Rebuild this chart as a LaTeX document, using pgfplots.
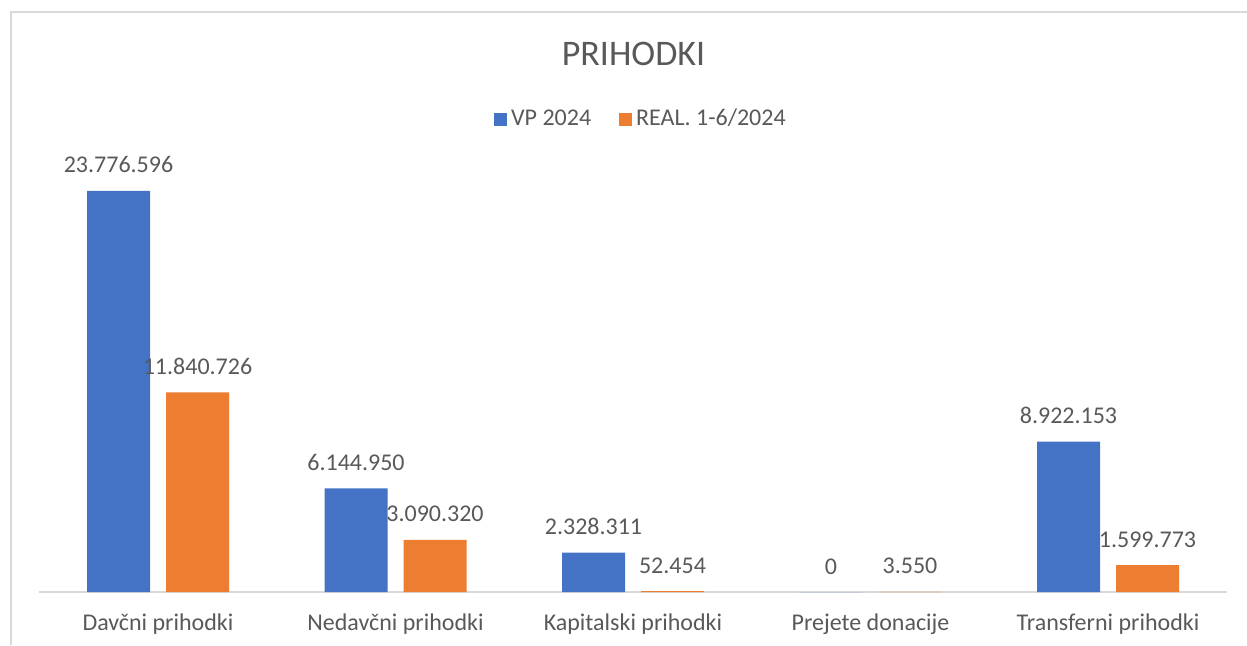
\documentclass[border=0pt]{standalone}
\usepackage{pgfplots}
\pgfplotsset{compat=1.18}
\usepackage{fontspec}
\setmainfont{Carlito}
\definecolor{cblue}{HTML}{4472C4}
\definecolor{corange}{HTML}{ED7D31}
\definecolor{ctext}{HTML}{595959}
\definecolor{cline}{HTML}{D9D9D9}
\begin{document}
\begin{tikzpicture}[x=1pt,y=1pt]
\path[use as bounding box] (0,0) rectangle (623.5,322.5);
\draw[cline, line width=1pt] (5.25,0) -- (5.25,316.75) -- (623.5,316.75);
\node[anchor=base, text=ctext, font=\fontsize{18}{21}\selectfont, inner sep=0pt] at (316.75,290) {PRIHODKI};
\begin{axis}[
  at={(19.625pt,26.5pt)}, anchor=south west,
  width=593.75pt, height=253pt, scale only axis,
  xmin=-0.5, xmax=4.5, ymin=0, ymax=30000000,
  axis y line=none, axis x line*=bottom,
  x axis line style={cline, line width=1pt},
  xtick={0,1,2,3,4},
  xticklabels={Davčni prihodki, Nedavčni prihodki, Kapitalski prihodki, Prejete donacije, Transferni prihodki},
  major tick length=0pt,
  xticklabel style={anchor=base, yshift=-19pt, text=ctext, font=\fontsize{12}{14}\selectfont},
  ybar, bar width=31.5pt,
  nodes near coords, point meta=explicit symbolic,
  nodes near coords style={anchor=base, yshift=9pt, text=ctext, font=\fontsize{12}{14}\selectfont},
  clip=false,
  legend columns=2,
  legend style={at={(0.5075,0.9348)}, anchor=center, draw=none, fill=none, inner sep=0pt,
    text=ctext, font=\fontsize{12}{14}\selectfont,
    /tikz/every even column/.append style={column sep=12pt}},
  legend image code/.code={\fill[#1] (0pt,-3.25pt) rectangle (6.5pt,3.25pt);},
]
\addplot[fill=cblue, draw=none, bar shift=-19.75pt] coordinates {
 (0,23776596) [23.776.596]
 (1,6144950) [6.144.950]
 (2,2328311) [2.328.311]
 (3,0) [0]
 (4,8922153) [8.922.153]
};
\addplot[fill=corange, draw=none, bar shift=19.75pt] coordinates {
 (0,11840726) [11.840.726]
 (1,3090320) [3.090.320]
 (2,52454) [52.454]
 (3,3550) [3.550]
 (4,1599773) [1.599.773]
};
\legend{VP 2024, REAL. 1-6/2024}
\end{axis}
\end{tikzpicture}
\end{document}
